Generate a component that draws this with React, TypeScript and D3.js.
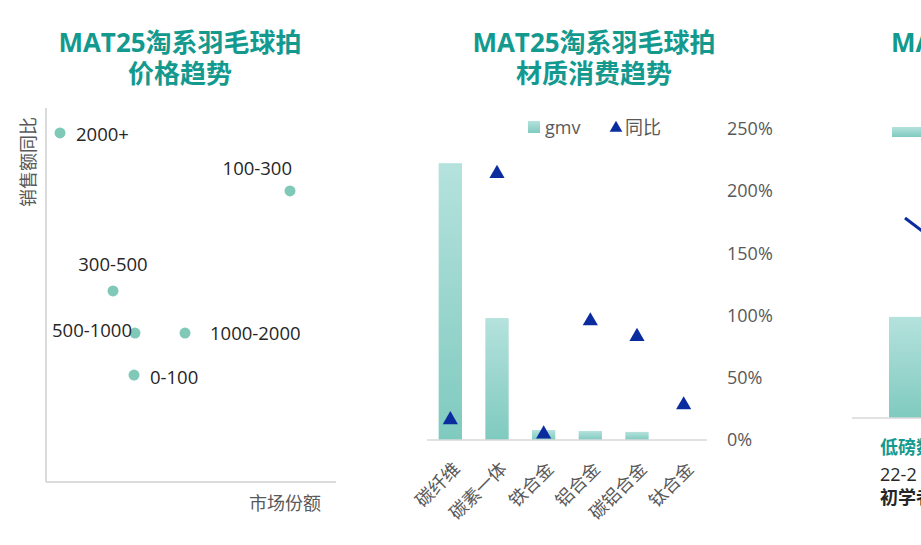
import * as d3 from "d3";
import React, { useEffect, useRef } from "react";

// Panel 1: price band scatter (market share % vs sales YoY)
const priceBands = ["2000+", "100-300", "300-500", "500-1000", "1000-2000", "0-100"];
const marketShare = [1.4, 24.4, 6.7, 8.9, 13.9, 8.8];
const salesYoy = [0.52, 0.334, 0.013, -0.122, -0.122, -0.257];

// Panel 2: material gmv (bars) and YoY (triangles)
const materials = ["碳纤维", "碳素一体", "铁合金", "铝合金", "碳铝合金", "钛合金"];
const materialGmv = [8.9, 3.92, 0.32, 0.29, 0.26, 0];
const materialYoy = [0.17, 2.15, 0.056, 0.965, 0.84, 0.29];
const pctTicks = [0, 0.5, 1, 1.5, 2, 2.5];

// Panel 3: only the left edge is visible
const weightCats = ["低磅数", "中磅数"];
const weightGmv = [3.5, 0];
const weightYoy = [1.73, 1.315];

const TEAL = "#13998e";
const NAVY = "#0b2c9f";
const DOT = "#80c9b9";
const GRAY = "#595959";
const AXIS = "#cfcfcf";
const FONT = "'Open Sans', 'Noto Sans CJK SC', sans-serif";

// where each scatter label sits relative to its dot
const labelPlace: Record<string, { dx: number; dy: number; anchor: string }> = {
  "2000+": { dx: 16, dy: 1, anchor: "start" },
  "100-300": { dx: 2, dy: -23, anchor: "end" },
  "300-500": { dx: 0, dy: -27, anchor: "middle" },
  "500-1000": { dx: -3, dy: -4, anchor: "end" },
  "1000-2000": { dx: 25, dy: -1, anchor: "start" },
  "0-100": { dx: 16, dy: 1, anchor: "start" },
};

export default function App() {
  const svgRef = useRef<SVGSVGElement | null>(null);

  useEffect(() => {
    if (!svgRef.current) return;
    const svg = d3.select(svgRef.current);
    svg.selectAll("*").remove();
    svg.attr("font-family", FONT);

    const defs = svg.append("defs");
    const grad = defs
      .append("linearGradient")
      .attr("id", "barGrad")
      .attr("x1", 0)
      .attr("y1", 0)
      .attr("x2", 0)
      .attr("y2", 1);
    grad.append("stop").attr("offset", "0%").attr("stop-color", "#b5e2dd");
    grad.append("stop").attr("offset", "100%").attr("stop-color", "#7fcabf");

    const title = (cx: number, lines: string[]) => {
      lines.forEach((l, i) =>
        svg
          .append("text")
          .attr("x", cx)
          .attr("y", 42 + i * 31)
          .attr("text-anchor", "middle")
          .attr("dominant-baseline", "central")
          .attr("fill", TEAL)
          .attr("font-size", 26)
          .attr("font-weight", "bold")
          .text(l),
      );
    };

    // ---------- Panel 1 ----------
    title(180, ["MAT25淘系羽毛球拍", "价格趋势"]);

    const x1 = d3.scaleLinear().domain([0, 29]).range([46, 336]);
    const y1 = d3.scaleLinear().domain([-0.6, 0.6]).range([482, 108]);

    const p1 = svg.append("g");
    p1.append("line")
      .attr("x1", x1(0))
      .attr("x2", x1(0))
      .attr("y1", y1(0.6))
      .attr("y2", y1(-0.6))
      .attr("stroke", AXIS)
      .attr("stroke-width", 1.5);
    p1.append("line")
      .attr("x1", x1(0))
      .attr("x2", x1(29))
      .attr("y1", y1(-0.6))
      .attr("y2", y1(-0.6))
      .attr("stroke", AXIS)
      .attr("stroke-width", 1.5);

    p1.append("text")
      .attr("transform", `translate(28,162) rotate(-90)`)
      .attr("text-anchor", "middle")
      .attr("dominant-baseline", "central")
      .attr("fill", GRAY)
      .attr("font-size", 18)
      .text("销售额同比");
    p1.append("text")
      .attr("x", 321)
      .attr("y", 503)
      .attr("text-anchor", "end")
      .attr("dominant-baseline", "central")
      .attr("fill", GRAY)
      .attr("font-size", 18)
      .text("市场份额");

    p1.selectAll("circle")
      .data(priceBands)
      .join("circle")
      .attr("cx", (_, i) => x1(marketShare[i]))
      .attr("cy", (_, i) => y1(salesYoy[i]))
      .attr("r", 5.5)
      .attr("fill", DOT);

    p1.selectAll("text.lbl")
      .data(priceBands)
      .join("text")
      .attr("class", "lbl")
      .attr("x", (d, i) => x1(marketShare[i]) + labelPlace[d].dx)
      .attr("y", (d, i) => y1(salesYoy[i]) + labelPlace[d].dy)
      .attr("text-anchor", (d) => labelPlace[d].anchor)
      .attr("dominant-baseline", "central")
      .attr("fill", "#262626")
      .attr("font-size", 18.5)
      .text((d) => d);

    // ---------- Panel 2 ----------
    title(594, ["MAT25淘系羽毛球拍", "材质消费趋势"]);

    const x2 = d3.scaleBand<string>().domain(materials).range([427, 707]).paddingInner(0.5).paddingOuter(0.25);
    const yGmv = d3.scaleLinear().domain([0, 10]).range([440, 129]);
    const yPct = d3.scaleLinear().domain([0, 2.5]).range([440, 129]);

    const p2 = svg.append("g");
    p2.selectAll("rect")
      .data(materials)
      .join("rect")
      .attr("x", (d) => x2(d)!)
      .attr("width", x2.bandwidth())
      .attr("y", (_, i) => yGmv(materialGmv[i]))
      .attr("height", (_, i) => yGmv(0) - yGmv(materialGmv[i]))
      .attr("fill", "url(#barGrad)");

    p2.append("line")
      .attr("x1", 427)
      .attr("x2", 707)
      .attr("y1", yPct(0))
      .attr("y2", yPct(0))
      .attr("stroke", "#d9d9d9")
      .attr("stroke-width", 1.5);

    const tri = d3.symbol(d3.symbolTriangle, 100);
    p2.selectAll("path.yoy")
      .data(materials)
      .join("path")
      .attr("class", "yoy")
      .attr("d", tri)
      .attr("transform", (d, i) => `translate(${x2(d)! + x2.bandwidth() / 2},${yPct(materialYoy[i]) + 1})`)
      .attr("fill", NAVY);

    // right percentage axis
    const ax = p2
      .append("g")
      .attr("transform", `translate(716,0)`)
      .call(
        d3
          .axisRight(yPct)
          .tickValues(pctTicks)
          .tickSize(0)
          .tickPadding(11)
          .tickFormat((d) => d3.format(".0%")(d as number)),
      );
    ax.select(".domain").remove();
    ax.selectAll("text").attr("fill", GRAY).attr("font-size", 18).attr("font-family", FONT);

    // category labels
    p2.selectAll("text.cat")
      .data(materials)
      .join("text")
      .attr("class", "cat")
      .attr("transform", (d) => `translate(${x2(d)! + x2.bandwidth() / 2 + 6},465) rotate(-45)`)
      .attr("text-anchor", "end")
      .attr("dominant-baseline", "central")
      .attr("fill", GRAY)
      .attr("font-size", 18)
      .text((d) => d);

    // legend
    const lg = p2.append("g");
    lg.append("rect").attr("x", 528).attr("y", 121).attr("width", 12).attr("height", 12).attr("fill", "url(#barGrad)");
    lg.append("text")
      .attr("x", 545)
      .attr("y", 127)
      .attr("dominant-baseline", "central")
      .attr("fill", GRAY)
      .attr("font-size", 18)
      .text("gmv");
    lg.append("path").attr("d", d3.symbol(d3.symbolTriangle, 70)).attr("transform", "translate(616,128)").attr("fill", NAVY);
    lg.append("text")
      .attr("x", 625)
      .attr("y", 127)
      .attr("dominant-baseline", "central")
      .attr("fill", GRAY)
      .attr("font-size", 18)
      .text("同比");

    // ---------- Panel 3 (cut off by the right edge) ----------
    svg.append("text")
      .attr("x", 891)
      .attr("y", 42)
      .attr("dominant-baseline", "central")
      .attr("fill", TEAL)
      .attr("font-size", 26)
      .attr("font-weight", "bold")
      .text("MA");

    const x3 = d3.scalePoint<string>().domain(weightCats).range([905, 969]);
    const y3Gmv = d3.scaleLinear().domain([0, 10]).range([418, 129]);
    const y3Pct = d3.scaleLinear().domain([0, 2.5]).range([418, 129]);

    const p3 = svg.append("g");
    p3.append("rect").attr("x", 892).attr("y", 127).attr("width", 29).attr("height", 10).attr("fill", "url(#barGrad)");
    p3.selectAll("rect.bar")
      .data(weightCats)
      .join("rect")
      .attr("class", "bar")
      .attr("x", (d) => x3(d)! - 16)
      .attr("width", 32)
      .attr("y", (_, i) => y3Gmv(weightGmv[i]))
      .attr("height", (_, i) => y3Gmv(0) - y3Gmv(weightGmv[i]))
      .attr("fill", "url(#barGrad)");
    p3.append("line")
      .attr("x1", 852)
      .attr("x2", 921)
      .attr("y1", y3Gmv(0))
      .attr("y2", y3Gmv(0))
      .attr("stroke", "#d9d9d9")
      .attr("stroke-width", 1.5);
    p3.append("path")
      .datum(weightYoy)
      .attr(
        "d",
        d3
          .line<number>()
          .x((_, i) => x3(weightCats[i])!)
          .y((d) => y3Pct(d)),
      )
      .attr("fill", "none")
      .attr("stroke", NAVY)
      .attr("stroke-width", 3);

    const notes = [
      { t: "低磅数", c: TEAL, w: "bold", y: 447 },
      { t: "22-2", c: "#262626", w: "normal", y: 474 },
      { t: "初学者", c: "#262626", w: "bold", y: 497 },
    ];
    p3.selectAll("text.note")
      .data(notes)
      .join("text")
      .attr("class", "note")
      .attr("x", 880)
      .attr("y", (d) => d.y)
      .attr("dominant-baseline", "central")
      .attr("fill", (d) => d.c)
      .attr("font-weight", (d) => d.w)
      .attr("font-size", 18)
      .text((d) => d.t);
  }, []);

  return (
    <svg
      ref={svgRef}
      width={921}
      height={545}
      style={{ position: "absolute", left: 0, top: 0, background: "#fff" }}
    />
  );
}
